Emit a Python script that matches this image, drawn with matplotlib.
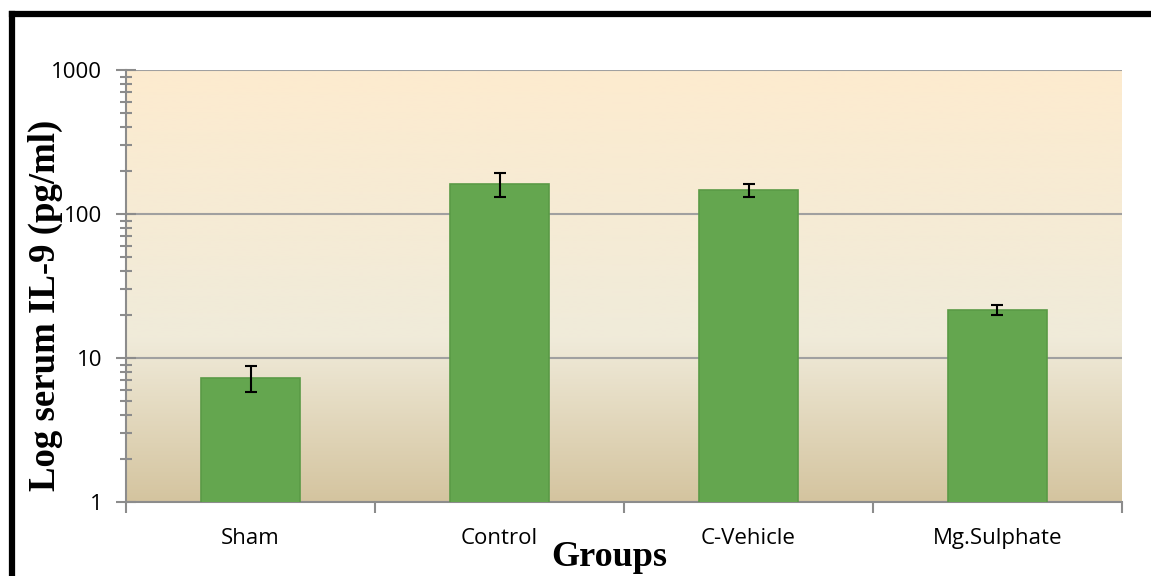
import numpy as np
import matplotlib.pyplot as plt
from matplotlib.colors import LinearSegmentedColormap
from matplotlib.lines import Line2D

groups = ['Sham', 'Control', 'C-Vehicle', 'Mg.Sulphate']
means = [7.3, 162, 147, 21.6]
errors = [1.5, 30, 15, 1.7]

fig = plt.figure(figsize=(11.51, 5.76), dpi=100)
ax = fig.add_axes([0.1095, 0.1285, 0.8653, 0.75])

# gradient plot-area background (top -> bottom)
cmap = LinearSegmentedColormap.from_list(
    'parch', [(0.0, '#D4C49F'), (0.38, '#F0EBDA'), (1.0, '#FDEBCF')])
grad = np.linspace(0, 1, 256).reshape(-1, 1)
ax.imshow(grad, cmap=cmap, aspect='auto', origin='lower',
          extent=[0, 1, 0, 1], transform=ax.transAxes, zorder=0)

ax.set_yscale('log')
ax.set_ylim(1, 1000)
ax.set_xlim(-0.5, 3.5)

x = np.arange(len(groups))
ax.bar(x, means, width=0.4, color='#64A64F', edgecolor='#5A9A46',
       linewidth=1.2, zorder=3)
ax.errorbar(x, means, yerr=errors, fmt='none', ecolor='black',
            elinewidth=1.5, capsize=4.5, capthick=1.5, zorder=4)

ax.grid(axis='y', which='major', color='#A0A0A0', linewidth=1.5, zorder=1)
for s in ['top', 'right']:
    ax.spines[s].set_visible(False)
for s in ['left', 'bottom']:
    ax.spines[s].set_color('#8C8C8C')
    ax.spines[s].set_linewidth(1.5)

ax.set_yticks([1, 10, 100, 1000])
ax.set_yticklabels(['1', '10', '100', '1000'])
ax.tick_params(axis='y', which='major', direction='inout', length=14,
               width=1.5, color='#8C8C8C', labelsize=16, pad=10)
ax.tick_params(axis='y', which='minor', direction='inout', length=8,
               width=1.5, color='#8C8C8C')

ax.set_xticks(np.arange(-0.5, 4.0, 1.0))
ax.set_xticklabels([])
ax.set_xticks(x, minor=True)
ax.set_xticklabels(groups, minor=True)
ax.tick_params(axis='x', which='major', direction='out', length=8,
               width=1.5, color='#8C8C8C')
ax.tick_params(axis='x', which='minor', length=0, labelsize=16, pad=19)

for lab in ax.get_xticklabels(minor=True) + ax.get_yticklabels():
    lab.set_family('Open Sans')

fig.text(45 / 1151, 1 - 305 / 576, 'Log serum IL-9 (pg/ml)', rotation=90,
         ha='center', va='center', family='Liberation Serif',
         fontweight='bold', fontsize=26.5)
ax.text(0.485, -0.09, 'Groups', transform=ax.transAxes, ha='center',
        va='top', family='Liberation Serif', fontweight='bold', fontsize=26)

# black frame (top and left)
fig.add_artist(Line2D([11.5 / 1151, 1.0], [1 - 14 / 576, 1 - 14 / 576],
                      transform=fig.transFigure, color='black', lw=4.5,
                      solid_capstyle='projecting'))
fig.add_artist(Line2D([11.5 / 1151, 11.5 / 1151], [0.0, 1 - 14 / 576],
                      transform=fig.transFigure, color='black', lw=4.5,
                      solid_capstyle='projecting'))

plt.savefig('out.png', dpi=100)
